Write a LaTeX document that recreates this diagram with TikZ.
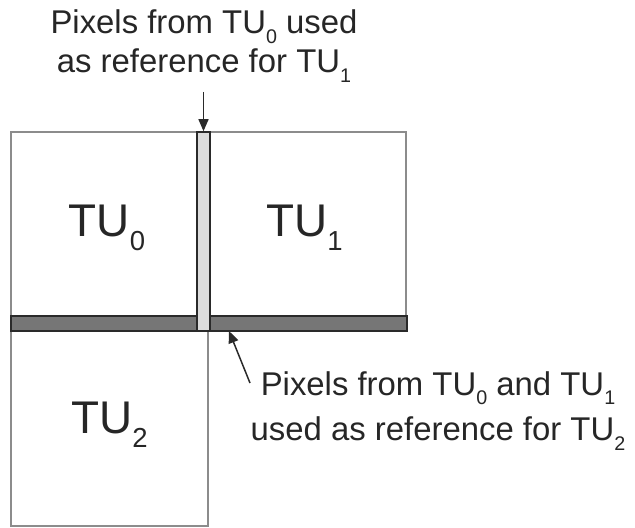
\documentclass[tikz,border=0pt]{standalone}
\usepackage{fontspec}
\setmainfont{Liberation Sans}
\usepackage{graphicx}
\usetikzlibrary{arrows.meta}
\newcommand\subs[1]{\raisebox{-0.3em}{\scalebox{0.6}{#1}}}
\definecolor{boxgray}{HTML}{8C8C8C}
\definecolor{stripdark}{HTML}{767676}
\definecolor{striplight}{HTML}{DCDCDC}
\definecolor{edge}{HTML}{2A2A2A}
\definecolor{txt}{HTML}{262626}
\begin{document}
\begin{tikzpicture}[x=1bp,y=-1bp,
  tubox/.style={draw=boxgray,line width=2bp,inner sep=0pt,text=txt,
    font=\fontsize{46}{50}\selectfont},
  strip/.style={draw=edge,line width=1.6bp,inner sep=0pt},
  lbl/.style={text=txt,align=center,inner sep=0pt},
  arr/.style={draw=edge,line width=1.5bp,-{Triangle[length=12bp,width=10bp]}}]
\useasboundingbox (0,0) rectangle (635,528);
\node[tubox,minimum width=192bp,minimum height=192bp] (tu0) at (107,228) {TU\subs{0}};
\node[tubox,minimum width=203bp,minimum height=192bp] (tu1) at (304.5,228) {TU\subs{1}};
\node[tubox,minimum width=197bp,minimum height=202bp] (tu2) at (109.5,425) {TU\subs{2}};
\node[strip,fill=stripdark,minimum width=396bp,minimum height=15bp] (hstrip) at (209,323.5) {};
\node[strip,fill=striplight,minimum width=13bp,minimum height=199bp] (vstrip) at (203.5,231.5) {};
\node[lbl,font=\fontsize{33}{39}\selectfont] (l1) at (204,46) {Pixels from TU\subs{0} used\\as reference for TU\subs{1}};
\node[lbl,font=\fontsize{33}{46}\selectfont] (l2) at (438,411) {Pixels from TU\subs{0} and TU\subs{1}\\used as reference for TU\subs{2}};
\coordinate (a1) at (203.5,92);
\coordinate (a2) at (250,383);
\coordinate (t2) at (229,331);
\draw[arr] (a1) -- (vstrip.north);
\draw[arr] (a2) -- (t2);
\end{tikzpicture}
\end{document}
